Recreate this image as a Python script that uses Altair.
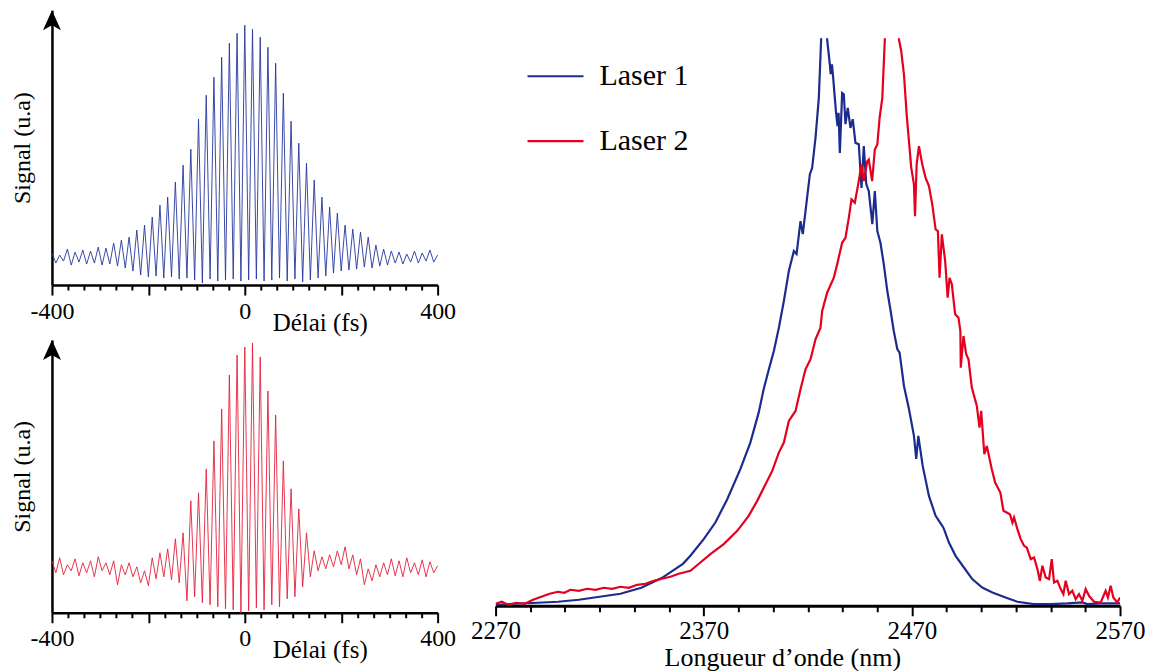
import altair as alt
import pandas as pd

FONT = "Liberation Serif"
BLUE = "#1c2c8c"
RED = "#e6001f"
BLUE_THIN = "#26389c"
RED_THIN = "#e3213b"

# ---------------- Autocorrelation traces (delay in fs, signal in a.u.) ----------------
delay_fs = list(range(-400, 401, 8))

signal_laser1 = [
    32, 22, 30, 24, 36, 20, 33, 23, 35, 21, 34, 22, 38, 20, 37, 21, 42, 19, 45, 17,
    48, 14, 55, 10, 60, 8, 68, 9, 80, 7, 88, 8, 103, 6, 120, 7, 136, 5, 166, 2,
    190, 6, 208, 4, 228, 5, 242, 6, 252, 4, 260, 5, 256, 6, 248, 4, 238, 5, 222, 7,
    192, 4, 164, 6, 142, 3, 122, 5, 105, 7, 88, 9, 78, 12, 72, 14, 60, 15, 56, 16,
    53, 18, 48, 17, 40, 19, 36, 20, 34, 22, 33, 21, 31, 23, 34, 22, 32, 24, 35, 23,
    30,
]

signal_laser2 = [
    52, 40, 55, 38, 48, 42, 54, 37, 50, 40, 52, 36, 56, 42, 50, 38, 52, 28, 48, 38,
    50, 36, 46, 30, 42, 27, 55, 34, 60, 36, 64, 33, 74, 30, 80, 12, 112, 16, 120, 10,
    144, 8, 172, 6, 204, 4, 238, 3, 258, 0, 266, 2, 270, 5, 256, 3, 222, 8, 198, 6,
    152, 14, 124, 16, 104, 26, 80, 36, 62, 42, 56, 44, 58, 46, 62, 48, 66, 44, 58, 38,
    54, 28, 44, 32, 48, 36, 50, 38, 54, 37, 52, 36, 55, 40, 50, 38, 53, 36, 51, 40,
    47,
]

delay_ticks = [-400, -366.67, -333.33, -300, -266.67, -233.33, -200, -166.67, -133.33,
               -100, -66.67, -33.33, 0, 33.33, 66.67, 100, 133.33, 166.67, 200,
               233.33, 266.67, 300, 333.33, 366.67, 400]

# ---------------- Spectra (wavelength in nm, intensity in a.u.) ----------------
wl_laser1 = [
    2270, 2280, 2290, 2300, 2310, 2320, 2330, 2340, 2345, 2350, 2355, 2360, 2363.6,
    2370, 2375.6, 2381.3, 2387.6, 2392.4, 2396.4, 2398.8, 2401.3, 2403.7, 2406.1,
    2408.5, 2410.9, 2413.3, 2414.6, 2416.5, 2417.6, 2418.9, 2421, 2422.1, 2423.7,
    2425.3, 2426.4, 2427.9, 2429.3, 2430.6, 2431, 2431.6, 2432.2, 2433.5, 2434.3,
    2434.8, 2435.4, 2436.5, 2437.3, 2438.1, 2439.2, 2440.5, 2441.6, 2442.9, 2444.5,
    2445.8, 2446.9, 2448.1, 2449.3, 2451, 2452.2, 2453.4, 2454.9, 2456.5, 2458.2,
    2459.8, 2461.3, 2463, 2464.1, 2466.2, 2468.6, 2471, 2472.1, 2473.1, 2475.2,
    2478.2, 2481.4, 2484.6, 2485.4, 2487.8, 2491, 2495, 2499, 2503.8, 2508.7, 2515,
    2520.7, 2528.5, 2536.7, 2544.7, 2551.9, 2554.3, 2560.7, 2570,
]
spec_laser1 = [
    1, 2, 3, 4, 6, 9, 12, 18, 23, 28, 35, 42, 50,
    66.7, 83.3, 106.7, 136.7, 163.3, 193.3, 216.7, 236.7, 255, 278.3,
    305, 335, 355, 352, 385, 372, 395, 432, 438.3, 468.3,
    508.3, 566.7, 640, 566.7, 541.7, 532, 542, 528.3, 495, 480,
    493.3, 453.3, 513.3, 512, 482, 498.3, 478.3, 487, 463.3, 462,
    418.3, 460, 422, 415, 382, 415, 375, 363.3, 342, 315,
    295, 275, 257, 253.3, 220, 197, 170, 147, 170, 140,
    110, 90, 80, 77, 63.3, 50, 38.3, 26.7, 18.3, 13.3, 8.3,
    4, 1.7, 1.7, 2.3, 3.3, 1.7, 2.3, 2.3,
]

wl_laser2 = [
    2270, 2273, 2276, 2280, 2284, 2288, 2292, 2296, 2300, 2303, 2306, 2310, 2314,
    2318, 2322, 2326, 2330, 2334, 2338, 2342, 2346, 2350, 2354, 2358, 2363.6,
    2368.4, 2373.2, 2379.6, 2386.1, 2391.6, 2395.7, 2399.7, 2402.9, 2406.1, 2408.5,
    2410.9, 2414.1, 2416.5, 2418.9, 2421.3, 2423.7, 2426.1, 2426.9, 2429.3, 2432.5,
    2434.1, 2436.5, 2438.1, 2439.7, 2441, 2442.6, 2444.2, 2445.8, 2446.9, 2448.6,
    2449.3, 2450.9, 2452.2, 2453.4, 2454.5, 2455.8, 2457, 2460.5, 2463.8, 2464.9,
    2466.2, 2467.5, 2468.6, 2469.7, 2471, 2471.5, 2472.3, 2473.4, 2475, 2476.6,
    2478.2, 2479.8, 2481.4, 2482.5, 2483.3, 2484.4, 2486, 2487.2, 2488.1, 2489.2,
    2490.8, 2492.4, 2493.3, 2493.5, 2494.8, 2496.1, 2497.2, 2498.8, 2501.2, 2502.5,
    2503.3, 2504.8, 2506, 2508.4, 2510, 2512.5, 2514, 2517.1, 2518.3, 2519.1,
    2520.7, 2522.3, 2523.9, 2525.2, 2527.1, 2528.7, 2530.3, 2531.5, 2532.7, 2534.3,
    2535.9, 2537.2, 2538.3, 2539.9, 2541.5, 2542.8, 2543.9, 2545.5, 2547.1, 2548.7,
    2550.3, 2551.9, 2553.5, 2555.1, 2557.5, 2560.7, 2563.1, 2564.2, 2565.5, 2566.8,
    2568.7, 2570,
]
spec_laser2 = [
    2, 4, 1, 3, 2, 6, 9, 12, 14, 13, 16, 15, 17,
    16, 18, 17, 19, 18, 21, 22, 25, 27, 29, 32, 35,
    43.3, 51.7, 61.7, 75, 90, 105, 121.7, 135, 153.3, 163.3,
    185, 195, 216.7, 236.7, 246.7, 266.7, 278.3, 295, 313.3, 328.3,
    341.7, 363.3, 368.3, 388.3, 406.7, 403.3, 421.7, 441.7, 425, 445,
    446.7, 425, 456.7, 461.7, 488.3, 508.3, 566.7, 720, 566.7, 555,
    531.7, 491.7, 465, 438.3, 421.7, 390, 441.7, 460, 441.7, 428.3,
    420, 401.7, 376.7, 375, 328.3, 371.7, 345, 308.3, 328.3, 321.7,
    291.7, 288.3, 275, 238.3, 270, 251.7, 246.7, 218.3, 200, 178.3,
    195, 151.7, 160, 136.7, 123.3, 113.3, 95, 91.7, 83.3, 88.3,
    76.7, 66.7, 60, 58.3, 46.7, 48.3, 36.7, 25, 40, 28.3,
    26.7, 46.7, 23.3, 25, 16.7, 11.7, 25, 11.7, 15, 6.7,
    11.7, 5, 16.7, 10, 4, 3.3, 15, 8.3, 20, 8.3,
    3.3, 8.3,
]

wl_ticks = [2270, 2286.67, 2303.33, 2320, 2336.67, 2353.33, 2370, 2386.67, 2403.33,
            2420, 2436.67, 2453.33, 2470, 2486.67, 2503.33, 2520, 2536.67, 2553.33, 2570]

laser_names = ["Laser 1", "Laser 2"]

# ---------------- Helpers ----------------
ARROW = "M0,-1L0.6,0.333L0,0L-0.6,0.333Z"
one_row = pd.DataFrame({"k": [0]})


def delay_axis():
    return alt.Axis(
        values=delay_ticks,
        tickSize={"condition": {"test": "abs(datum.value) % 200 == 0", "value": 10}, "value": 5},
        tickWidth=2, tickColor="black",
        domainWidth=2.5, domainColor="black",
        labelExpr="indexof([-400, 0, 400], datum.value) >= 0 ? '' + datum.value : ''",
        labelFont=FONT, labelFontSize=24, labelColor="black", labelPadding=4,
        labelFlush=False, labelOverlap=False,
        title="Délai (fs)", titleFont=FONT, titleFontSize=25, titleFontWeight="normal",
        titleColor="black", titleX=268, titleY=45, titleBaseline="alphabetic",
        titleAlign="center", grid=False,
    )


def signal_axis(h):
    return alt.Axis(
        domain=True, domainWidth=2.5, domainColor="black", ticks=False, labels=False,
        grid=False, title="Signal (u.a)", titleFont=FONT, titleFontSize=24,
        titleFontWeight="normal", titleColor="black", titleX=-22, titleY=h / 2,
        titleBaseline="alphabetic", titleAlign="center", titleAngle=-90,
    )


def autocorr_panel(values, color, h):
    df = pd.DataFrame({"delay": delay_fs, "signal": values})
    line = alt.Chart(df).mark_line(strokeWidth=0.9, color=color).encode(
        x=alt.X("delay:Q", scale=alt.Scale(domain=[-400, 400], nice=False, zero=False),
                axis=delay_axis()),
        y=alt.Y("signal:Q", scale=alt.Scale(domain=[0, h], nice=False), axis=signal_axis(h)),
    )
    arrow = alt.Chart(one_row).mark_point(
        shape=ARROW, size=900, filled=True, color="black", opacity=1, strokeWidth=0
    ).encode(x=alt.value(0), y=alt.value(15))
    return alt.layer(line, arrow).properties(width=386, height=h)


top = autocorr_panel(signal_laser1, BLUE_THIN, 275)
bottom = autocorr_panel(signal_laser2, RED_THIN, 273)

# ---------------- Spectrum panel ----------------
spec_df = pd.concat([
    pd.DataFrame({"wl": wl_laser1, "I": spec_laser1, "laser": laser_names[0]}),
    pd.DataFrame({"wl": wl_laser2, "I": spec_laser2, "laser": laser_names[1]}),
])

spec_lines = alt.Chart(spec_df).mark_line(strokeWidth=2.2, clip=True).encode(
    x=alt.X("wl:Q", scale=alt.Scale(domain=[2270, 2570], nice=False, zero=False),
            axis=alt.Axis(
                values=wl_ticks,
                tickSize={"condition": {"test": "datum.value % 100 == 70", "value": 10}, "value": 6},
                tickWidth=2, tickColor="black", domainWidth=3, domainColor="black",
                labelExpr="datum.value % 100 == 70 ? '' + datum.value : ''",
                labelFont=FONT, labelFontSize=25, labelColor="black", labelPadding=3,
                labelFlush=False, labelOverlap=False,
                title="Longueur d’onde (nm)", titleFont=FONT, titleFontSize=26,
                titleFontWeight="normal", titleColor="black", titleX=287, titleY=60,
                titleBaseline="alphabetic", titleAlign="center", grid=False)),
    y=alt.Y("I:Q", scale=alt.Scale(domain=[0, 568], nice=False), axis=None),
    color=alt.Color("laser:N", scale=alt.Scale(domain=laser_names, range=[BLUE, RED]), legend=None),
)

leg = []
for name, col, yy in [(laser_names[0], BLUE, 38), (laser_names[1], RED, 103)]:
    leg.append(alt.Chart(one_row).mark_rule(color=col, strokeWidth=2.2).encode(
        x=alt.value(32), x2=alt.value(88), y=alt.value(yy)))
    leg.append(alt.Chart(one_row).mark_text(
        font=FONT, fontSize=30, color="black", align="left", baseline="middle"
    ).encode(x=alt.value(104), y=alt.value(yy), text=alt.value(name)))

right = alt.layer(spec_lines, *leg).properties(width=625, height=568)

# empty strip above the spectrum so that its plot starts lower than the left column
strip = alt.Chart(one_row).mark_rule(opacity=0, strokeWidth=0).encode(
    x=alt.value(0), y=alt.value(1), y2=alt.value(1)
).properties(width=625, height=1)

chart = alt.hconcat(
    alt.vconcat(top, bottom, spacing=5),
    alt.vconcat(strip, right, spacing=27),
    spacing=15,
).properties(
    padding={"left": 3, "top": 2, "right": 0, "bottom": 0}
).configure_view(stroke=None)

chart.save("out.html", embed_options={"renderer": "svg", "actions": False})
